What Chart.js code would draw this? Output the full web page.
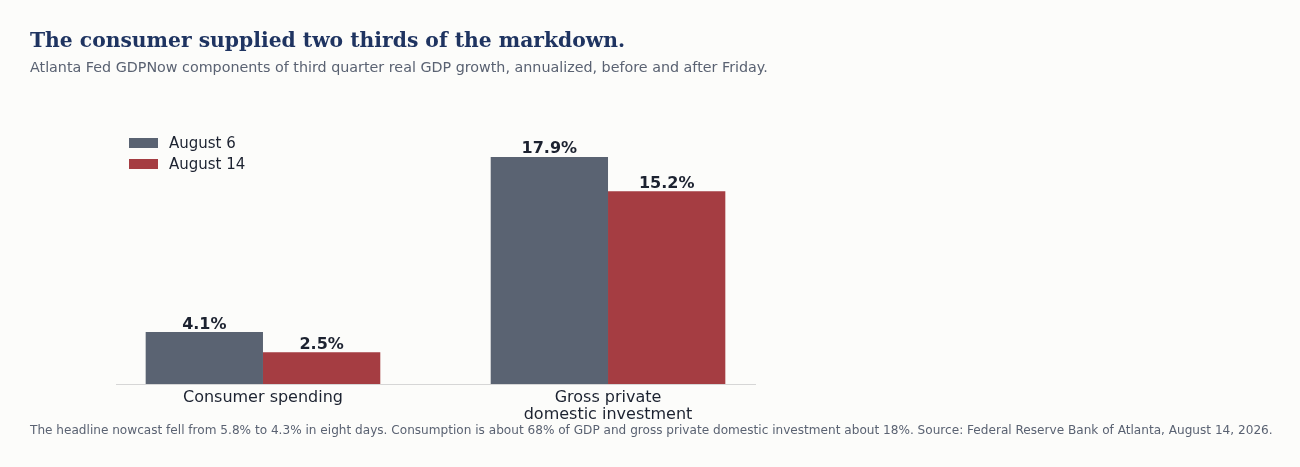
<!DOCTYPE html>
<html>
<head>
<meta charset="utf-8">
<script src="https://cdn.jsdelivr.net/npm/chart.js@4.4.1/dist/chart.umd.min.js"></script>
<style>
  html, body { margin: 0; padding: 0; background: #fcfcfa; }
  body { width: 1300px; height: 467px; position: relative; overflow: hidden; font-family: "DejaVu Sans", sans-serif; }
  .title { position: absolute; left: 30px; top: 28px; font-family: "DejaVu Serif", serif; font-weight: bold; font-size: 20.3px; color: #1f3461; white-space: nowrap; }
  .subtitle { position: absolute; left: 30px; top: 59px; font-size: 14.3px; color: #5a6272; white-space: nowrap; }
  .note { position: absolute; left: 30px; top: 423px; font-size: 12.1px; color: #5a6272; white-space: nowrap; }
  .wrap { position: absolute; left: 0; top: 0; width: 1300px; height: 467px; }
</style>
</head>
<body>
<div class="wrap"><canvas id="grafica" width="1300" height="467"></canvas></div>
<div class="title">The consumer supplied two thirds of the markdown.</div>
<div class="subtitle">Atlanta Fed GDPNow components of third quarter real GDP growth, annualized, before and after Friday.</div>
<div class="note">The headline nowcast fell from 5.8% to 4.3% in eight days. Consumption is about 68% of GDP and gross private domestic investment about 18%. Source: Federal Reserve Bank of Atlanta, August 14, 2026.</div>
<script>
const categorias = ["Consumer spending", ["Gross private", "domestic investment"]];
const august6 = [4.1, 17.9];
const august14 = [2.5, 15.2];
const series = ["August 6", "August 14"];
const colores = ["#5a6372", "#a53d42"];

// etiquetas de valor encima de cada barra
const etiquetas = {
  id: "etiquetas",
  afterDatasetsDraw(chart) {
    const ctx = chart.ctx;
    ctx.save();
    ctx.font = "bold 16px 'DejaVu Sans'";
    ctx.fillStyle = "#1c2230";
    ctx.textAlign = "center";
    ctx.textBaseline = "alphabetic";
    chart.data.datasets.forEach((ds, i) => {
      chart.getDatasetMeta(i).data.forEach((bar, j) => {
        ctx.fillText(ds.data[j].y.toFixed(1) + "%", bar.x, bar.y - 3.5);
      });
    });
    ctx.restore();
  }
};

// leyenda dentro del area, arriba a la izquierda
const leyenda = {
  id: "leyenda",
  afterDraw(chart) {
    const ctx = chart.ctx;
    const x0 = chart.chartArea.left + 13;
    const y0 = chart.chartArea.top + 38;
    ctx.save();
    ctx.font = "15px 'DejaVu Sans'";
    ctx.textBaseline = "middle";
    chart.data.datasets.forEach((ds, i) => {
      const y = y0 + i * 21;
      ctx.fillStyle = ds.backgroundColor;
      ctx.fillRect(x0, y - 5, 29, 10);
      ctx.fillStyle = "#1c2230";
      ctx.fillText(ds.label, x0 + 40, y + 1);
    });
    ctx.restore();
  }
};

const puntos = (valores) => valores.map((v, i) => ({ x: i, y: v }));

new Chart(document.getElementById("grafica"), {
  type: "bar",
  data: {
    datasets: [
      { label: series[0], data: puntos(august6), backgroundColor: colores[0] },
      { label: series[1], data: puntos(august14), backgroundColor: colores[1] }
    ]
  },
  options: {
    responsive: false,
    animation: false,
    devicePixelRatio: 1,
    categoryPercentage: 0.68,
    barPercentage: 1.0,
    layout: { padding: { left: 116, right: 545, top: 105, bottom: 43 } },
    scales: {
      x: {
        type: "linear",
        offset: false,
        min: -0.426,
        max: 1.426,
        grid: { display: false, offset: false },
        border: { display: true, color: "#d6d6d6", width: 1 },
        afterBuildTicks: (scale) => { scale.ticks = [{ value: 0 }, { value: 1 }]; },
        afterFit: (scale) => { scale.height = 40; },
        ticks: {
          autoSkip: false,
          maxRotation: 0,
          padding: -3,
          color: "#1c2230",
          font: { family: "DejaVu Sans", size: 16, lineHeight: 1.06 },
          callback: (v) => categorias[v]
        }
      },
      y: { display: false, min: 0, max: 22 }
    },
    plugins: {
      legend: { display: false },
      tooltip: { enabled: false }
    }
  },
  plugins: [etiquetas, leyenda]
});
</script>
</body>
</html>
